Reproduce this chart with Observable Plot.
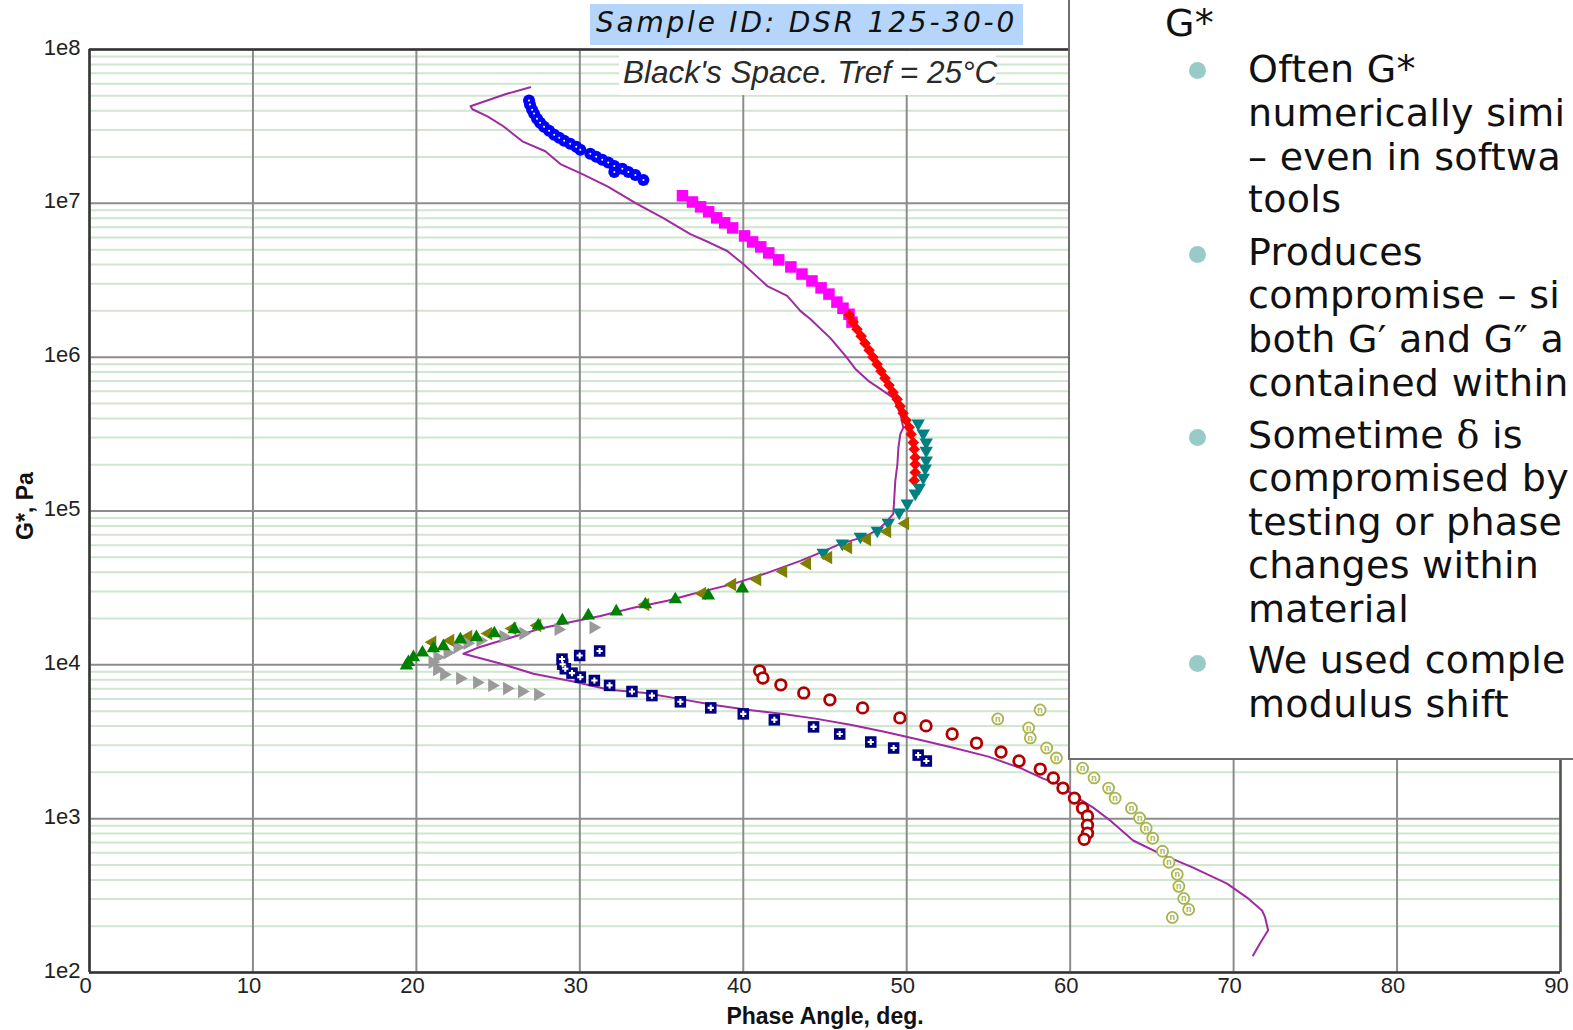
<!DOCTYPE html>
<html>
<head>
<meta charset="utf-8">
<script src="https://cdn.jsdelivr.net/npm/d3@7"></script>
<script src="https://cdn.jsdelivr.net/npm/@observablehq/plot@0.6"></script>
<style>
  html, body { margin: 0; padding: 0; background: #fff; overflow: hidden; }
  #wrap { position: relative; width: 1573px; height: 1030px; overflow: hidden; background: #fff; }
  #chart { position: absolute; left: 0; top: 0; }
  #title { position: absolute; left: 590px; top: 4px; width: 433px; height: 41px; background: #b5d6fa;
           font: italic 28px "DejaVu Sans", sans-serif; letter-spacing: 2.8px; color: #111;
           text-align: center; line-height: 37px; white-space: nowrap; }
  #subtitle { position: absolute; left: 619px; top: 51px; width: 377px; height: 44px; background: #fff;
              font: italic 31.5px "Liberation Sans", Arial, sans-serif; color: #2a2a2a;
              line-height: 42px; padding-left: 4px; box-sizing: border-box; white-space: nowrap; }
  #panel { position: absolute; left: 1068px; top: 0; width: 505px; height: 758px; background: #fff;
           border-left: 2px solid #6e6e6e; border-bottom: 2px solid #6e6e6e; overflow: hidden; }
  #panel .ln { position: absolute; left: 178px; font: 38px "DejaVu Sans", Verdana, sans-serif;
               letter-spacing: 0.3px; line-height: 38px; color: #111; white-space: nowrap; }
  #panel .bul { position: absolute; left: 119px; width: 17px; height: 17px; border-radius: 50%; background: #98cbc8; }
  .serif { font-family: "DejaVu Serif", serif; }
</style>
</head>
<body>
<div id="wrap">
  <div id="chart"></div>
  <div id="title">Sample ID: DSR 125-30-0</div>
  <div id="subtitle">Black's Space. Tref = 25°C</div>
  <div id="panel">
    <div class="ln" style="left:95px;top:4px">G*</div>
    <div class="bul" style="top:62px"></div>
    <div class="ln" style="top:49.5px">Often G*</div>
    <div class="ln" style="top:93.8px">numerically simi</div>
    <div class="ln" style="top:137.8px">– even in softwa</div>
    <div class="ln" style="top:180.1px">tools</div>
    <div class="bul" style="top:245.5px"></div>
    <div class="ln" style="top:232.8px">Produces</div>
    <div class="ln" style="top:276.1px">compromise – si</div>
    <div class="ln" style="top:320.1px">both G′ and G″ a</div>
    <div class="ln" style="top:363.8px">contained within</div>
    <div class="bul" style="top:428.8px"></div>
    <div class="ln" style="top:416.1px">Sometime <span class="serif">δ</span> is</div>
    <div class="ln" style="top:458.8px">compromised by</div>
    <div class="ln" style="top:502.8px">testing or phase</div>
    <div class="ln" style="top:546.1px">changes within</div>
    <div class="ln" style="top:589.5px">material</div>
    <div class="bul" style="top:654.8px"></div>
    <div class="ln" style="top:641.1px">We used comple</div>
    <div class="ln" style="top:685.1px">modulus shift</div>
  </div>
</div>
<script>
// ---- axis ticks ----
const xTicks = [0, 10, 20, 30, 40, 50, 60, 70, 80, 90];
const yTicks = [1e2, 1e3, 1e4, 1e5, 1e6, 1e7, 1e8];
const minorFactors = [2, 3, 4, 5, 6, 7, 8, 9];

// ---- data: [phase angle (deg), G* (Pa)] ----
const blueCircles = [
  [26.89,4.66e7],[26.95,4.39e7],[27.08,4.06e7],[27.2,3.83e7],[27.38,3.55e7],[27.57,3.34e7],
  [27.81,3.15e7],[28.12,2.96e7],[28.43,2.79e7],[28.74,2.67e7],[29.04,2.55e7],[29.41,2.44e7],
  [29.78,2.33e7],[30.03,2.23e7],[30.64,2.10e7],[31.0,2.01e7],[31.37,1.92e7],[31.74,1.84e7],
  [32.11,1.75e7],[32.11,1.60e7],[32.6,1.68e7],[32.97,1.60e7],[33.4,1.53e7],[33.89,1.42e7]
];
const magentaSquares = [
  [36.28,1.12e7],[36.89,1.02e7],[37.39,9.49e6],[37.88,8.81e6],[38.37,8.05e6],[38.86,7.47e6],
  [39.35,6.92e6],[40.08,6.14e6],[40.57,5.61e6],[41.07,5.21e6],[41.56,4.76e6],[42.17,4.29e6],
  [42.91,3.86e6],[43.59,3.47e6],[44.2,3.13e6],[44.76,2.82e6],[45.24,2.57e6],[45.73,2.28e6],
  [46.1,2.08e6],[46.47,1.90e6],[46.65,1.69e6]
];
const redDiamonds = [
  [46.47,1.88e6],[46.72,1.69e6],[46.96,1.52e6],[47.21,1.37e6],[47.45,1.23e6],[47.7,1.11e6],
  [47.94,1.00e6],[48.19,9.00e5],[48.43,8.11e5],[48.67,7.30e5],[48.92,6.57e5],[49.16,5.92e5],
  [49.41,5.33e5],[49.6,4.80e5],[49.78,4.32e5],[49.96,3.89e5],[50.15,3.50e5],[50.27,3.15e5],
  [50.4,2.79e5],[50.46,2.52e5],[50.52,2.23e5],[50.52,2.01e5],[50.52,1.78e5],[50.46,1.58e5]
];
const tealTriangles = [
  [50.70,3.71e5],[51.01,3.19e5],[51.19,2.79e5],[51.19,2.47e5],[51.19,2.13e5],[51.13,1.89e5],
  [51.01,1.65e5],[50.76,1.42e5],[50.52,1.30e5],[50.03,1.12e5],[49.54,9.78e4],[48.87,8.41e4],
  [48.20,7.46e4],[47.16,6.82e4],[46.06,6.15e4],[44.89,5.37e4]
];
const oliveTriangles = [
  [49.91,8.29e4],[48.81,7.36e4],[47.58,6.53e4],[46.42,5.79e4],[45.20,4.99e4],[43.91,4.56e4],
  [42.45,4.05e4],[40.86,3.59e4],[39.33,3.33e4],[37.49,2.91e4],[34.01,2.47e4],[27.40,1.80e4],
  [25.87,1.72e4],[24.40,1.60e4],[23.18,1.53e4],[22.08,1.44e4],[20.98,1.40e4]
];
const greenTriangles = [
  [39.94,3.13e4],[37.86,2.82e4],[35.84,2.66e4],[34.01,2.47e4],[32.23,2.22e4],[30.52,2.09e4],
  [28.93,1.94e4],[27.46,1.80e4],[25.99,1.70e4],[24.77,1.60e4],[23.67,1.51e4],[22.69,1.46e4],
  [21.65,1.32e4],[21.04,1.28e4],[20.37,1.20e4],[19.82,1.12e4],[19.51,1.04e4],[19.39,9.89e3]
];
const grayTriangles = [
  [30.83,1.75e4],[28.69,1.70e4],[26.54,1.60e4],[25.32,1.53e4],[23.91,1.44e4],[23.12,1.38e4],
  [22.51,1.30e4],[21.90,1.20e4],[21.28,1.12e4],[20.98,1.04e4],[21.26,9.33e3],[21.69,8.65e3],
  [22.67,8.15e3],[23.71,7.67e3],[24.63,7.35e3],[25.54,7.02e3],[26.46,6.71e3],[27.44,6.41e3]
];
const navySquares = [
  [28.91,1.09e4],[28.95,1.01e4],[29.11,9.43e3],[29.52,8.83e3],[30.03,8.32e3],[29.99,1.15e4],
  [31.21,1.23e4],[30.89,7.91e3],[31.82,7.35e3],[33.19,6.71e3],[34.41,6.31e3],[36.15,5.75e3],
  [38.01,5.25e3],[40.0,4.80e3],[41.9,4.39e3],[44.3,3.95e3],[45.9,3.55e3],[47.8,3.15e3],
  [49.2,2.88e3],[50.7,2.59e3],[51.2,2.37e3]
];
const darkRedCircles = [
  [41.0,9.14e3],[41.2,8.22e3],[42.3,7.41e3],[43.7,6.57e3],[45.3,5.92e3],[47.3,5.25e3],
  [49.58,4.52e3],[51.18,4.01e3],[52.78,3.55e3],[54.27,3.10e3],[55.77,2.71e3],[56.87,2.37e3],
  [58.17,2.10e3],[58.97,1.84e3],[59.56,1.58e3],[60.26,1.36e3],[60.76,1.17e3],[61.06,1.04e3],
  [61.06,9.08e2],[61.06,8.05e2],[60.86,7.35e2]
];
const yellowCircles = [
  [55.57,4.45e3],[58.16,5.09e3],[57.46,3.89e3],[57.56,3.35e3],[58.56,2.88e3],[59.16,2.48e3],
  [60.76,2.13e3],[61.46,1.84e3],[62.35,1.58e3],[62.75,1.36e3],[63.75,1.17e3],[64.25,1.01e3],
  [64.65,8.67e2],[65.05,7.46e2],[65.65,6.14e2],[66.05,5.21e2],[66.55,4.35e2],[66.65,3.63e2],
  [66.95,3.03e2],[67.25,2.57e2],[66.25,2.28e2]
];
const masterCurve = [
  [26.97,5.69e7],[25.44,5.12e7],[23.31,4.28e7],[23.43,4.09e7],[24.35,3.68e7],[25.32,3.17e7],
  [26.48,2.53e7],[27.89,2.18e7],[28.81,1.80e7],[30.03,1.57e7],[31.69,1.29e7],[33.52,9.89e6],
  [35.11,8.02e6],[36.76,6.31e6],[37.99,5.52e6],[39.02,4.90e6],[40.0,4.03e6],[41.47,2.90e6],
  [42.69,2.50e6],[43.49,2.00e6],[44.1,1.77e6],[45.33,1.33e6],[46.25,1.02e6],[46.86,8.39e5],
  [47.65,7.02e5],[48.38,6.22e5],[49.18,5.44e5],[49.61,4.28e5],[49.79,3.47e5],[49.61,3.17e5],
  [49.49,2.57e5],[49.43,2.02e5],[49.3,1.57e5],[49.24,1.22e5],[49.18,9.57e4],[48.81,8.62e4],
  [48.38,7.77e4],[47.77,7.10e4],[46.97,6.59e4],[45.94,6.11e4],[44.53,5.26e4],[43.49,4.74e4],
  [41.47,3.96e4],[39.39,3.36e4],[36.95,2.90e4],[35.36,2.61e4],[33.28,2.35e4],[31.26,2.08e4],
  [29.24,1.88e4],[27.59,1.72e4],[25.76,1.50e4],[23.74,1.29e4],[22.88,1.18e4],[25.13,1.02e4],
  [27.16,8.75e3],[29.67,7.76e3],[31.8,6.89e3],[33.89,6.59e3],[36.02,6.03e3],[38.11,5.51e3],
  [40.24,5.11e3],[42.33,4.81e3],[44.41,4.47e3],[46.55,4.08e3],[48.63,3.67e3],[50.78,3.26e3],
  [52.85,2.89e3],[55.0,2.53e3],[57.07,2.11e3],[58.35,1.82e3],[59.21,1.69e3],[60.43,1.37e3],
  [61.41,1.18e3],[62.45,9.72e2],[63.85,7.21e2],[65.5,5.93e2],[67.52,4.81e2],[69.6,3.78e2],
  [70.82,3.07e2],[71.74,2.53e2],[71.93,2.28e2],[72.11,1.88e2],[71.62,1.55e2],[71.19,1.29e2]
];

// ---- helpers ----
const minorTicks = yTicks.slice(0, -1).flatMap(t => minorFactors.map(f => t * f));
function triangle(dirDeg) {
  return {
    draw(context, size) {
      const s = Math.sqrt(4 * size / Math.sqrt(3));
      const R = s / Math.sqrt(3);
      for (let i = 0; i < 3; i++) {
        const a = (dirDeg + i * 120) * Math.PI / 180;
        const px = R * Math.cos(a), py = R * Math.sin(a);
        if (i === 0) context.moveTo(px, py); else context.lineTo(px, py);
      }
      context.closePath();
    }
  };
}
const triUp = triangle(-90), triDown = triangle(90), triLeft = triangle(180), triRight = triangle(0);
const X = d => d[0], Y = d => d[1];

const chart = Plot.plot({
  width: 1573,
  height: 1030,
  marginLeft: 89,
  marginRight: 13,
  marginTop: 49,
  marginBottom: 58,
  x: {domain: [0, 90]},
  y: {type: "log", domain: [1e2, 1e8]},
  style: {fontFamily: "Liberation Sans, Arial, sans-serif", fontSize: "22px", color: "#222", background: "#fff", overflow: "visible"},
  marks: [
    Plot.ruleY(minorTicks, {stroke: "#cfe6cf", strokeWidth: 2}),
    Plot.ruleY(yTicks, {stroke: "#8c8c8c", strokeWidth: 2}),
    Plot.ruleX(xTicks, {stroke: "#8c8c8c", strokeWidth: 2}),
    Plot.ruleX([0], {stroke: "#333", strokeWidth: 2.5}),
    Plot.ruleX([90], {stroke: "#555", strokeWidth: 2.5}),
    Plot.ruleY([1e8, 1e2], {stroke: "#333", strokeWidth: 2.5}),
    Plot.axisY({ticks: yTicks, tickFormat: d => "1e" + Math.round(Math.log10(d)), tickSize: 0, tickPadding: 9, dy: -2, label: null}),
    Plot.axisX({ticks: xTicks, tickFormat: d => String(d), tickSize: 0, tickPadding: 5, dx: -4, label: null}),
    Plot.text(["G*, Pa"], {text: d => d, frameAnchor: "left", textAnchor: "middle", lineAnchor: "middle", dx: -64, dy: -5, rotate: -90, fontWeight: "bold", fontSize: 23, fill: "#111"}),
    Plot.text(["Phase Angle, deg."], {text: d => d, frameAnchor: "bottom", textAnchor: "middle", lineAnchor: "middle", dy: 44, fontWeight: "bold", fontSize: 23, fill: "#111"}),
    Plot.line(masterCurve, {x: X, y: Y, stroke: "#a02aa0", strokeWidth: 2}),
    Plot.dot(blueCircles, {x: X, y: Y, r: 6, fill: "#0000ff"}),
    Plot.dot(blueCircles, {x: X, y: Y, r: 1, fill: "#fff"}),
    Plot.dot(magentaSquares, {x: X, y: Y, r: 6.5, symbol: "square", fill: "#ff00ff"}),
    Plot.dot(redDiamonds, {x: X, y: Y, r: 5.2, symbol: "diamond2", fill: "#ff0000"}),
    Plot.dot(tealTriangles, {x: X, y: Y, r: 5, symbol: triDown, fill: "#008080"}),
    Plot.dot(oliveTriangles, {x: X, y: Y, r: 5, symbol: triLeft, fill: "#808000"}),
    Plot.dot(grayTriangles, {x: X, y: Y, r: 5, symbol: triRight, fill: "#9a9a9a"}),
    Plot.dot(greenTriangles, {x: X, y: Y, r: 5, symbol: triUp, fill: "#008000"}),
    Plot.dot(navySquares, {x: X, y: Y, r: 6.5, symbol: "square", fill: "#000080"}),
    Plot.dot(navySquares, {x: X, y: Y, r: 2.6, symbol: "cross", fill: "#fff"}),
    Plot.dot(darkRedCircles, {x: X, y: Y, r: 5.3, fill: "#fff", stroke: "#b00000", strokeWidth: 2.8}),
    Plot.dot(yellowCircles, {x: X, y: Y, r: 5.5, fill: "#fff", stroke: "#a8b44e", strokeWidth: 1.8}),
    Plot.text(yellowCircles, {x: X, y: Y, text: () => "n", fontSize: 9, fontWeight: "bold", fill: "#a8b44e"})
  ]
});
document.getElementById("chart").appendChild(chart);
</script>
</body>
</html>
